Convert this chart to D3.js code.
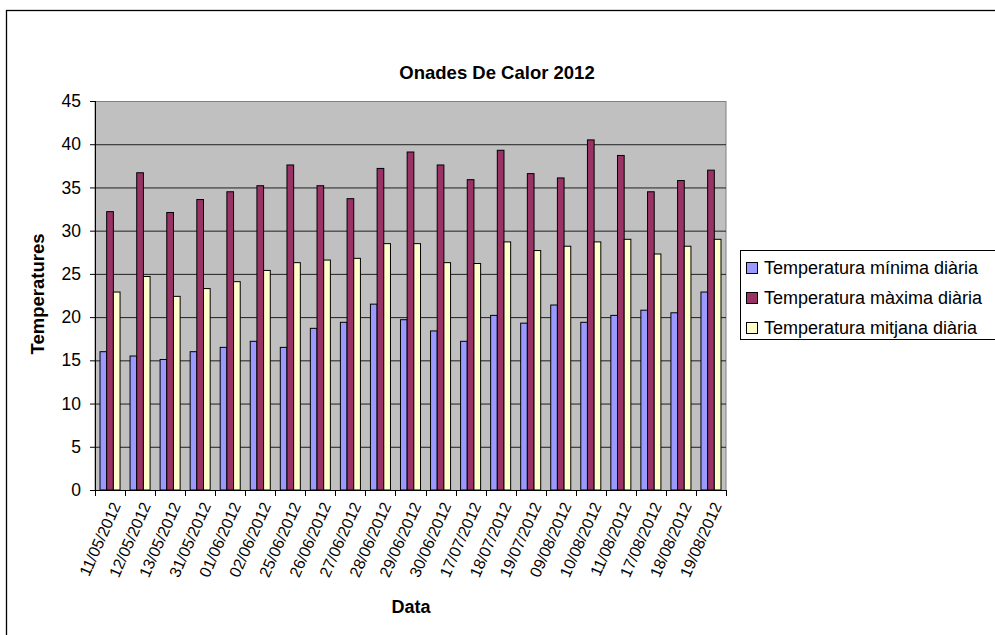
<!DOCTYPE html>
<html>
<head>
<meta charset="utf-8">
<script src="https://cdn.jsdelivr.net/npm/d3@7"></script>
<style>
  body { margin: 0; background: #fff; }
  text { font-family: Arial, "Liberation Sans", sans-serif; fill: #000; }
</style>
</head>
<body>
<svg id="chart" width="995" height="635"></svg>
<script>
// Dates (categories)
var dates = ['11/05/2012', '12/05/2012', '13/05/2012', '31/05/2012', '01/06/2012',
  '02/06/2012', '25/06/2012', '26/06/2012', '27/06/2012', '28/06/2012', '29/06/2012',
  '30/06/2012', '17/07/2012', '18/07/2012', '19/07/2012', '09/08/2012', '10/08/2012',
  '11/08/2012', '17/08/2012', '18/08/2012', '19/08/2012'];

// Series values
var tempMin = [16.0, 15.5, 15.1, 16.0, 16.5, 17.2, 16.5, 18.7, 19.4, 21.5, 19.7,
  18.4, 17.2, 20.2, 19.3, 21.4, 19.4, 20.2, 20.8, 20.5, 22.9];
var tempMax = [32.2, 36.7, 32.1, 33.6, 34.5, 35.2, 37.6, 35.2, 33.7, 37.2, 39.1,
  37.6, 35.9, 39.3, 36.6, 36.1, 40.5, 38.7, 34.5, 35.8, 37.0];
var tempMean = [22.9, 24.7, 22.4, 23.3, 24.1, 25.4, 26.3, 26.6, 26.8, 28.5, 28.5,
  26.3, 26.2, 28.7, 27.7, 28.2, 28.7, 29.0, 27.3, 28.2, 29.0];

var yTicks = [0, 5, 10, 15, 20, 25, 30, 35, 40, 45];

var seriesNames = ['Temperatura mínima diària', 'Temperatura màxima diària', 'Temperatura mitjana diària'];
var seriesColors = ['#9999FF', '#993366', '#FFFFCC'];
var seriesValues = [tempMin, tempMax, tempMean];

var svg = d3.select('#chart');

// outer chart border (right and bottom run off the window)
svg.append('rect')
  .attr('x', 6.5).attr('y', 10.5)
  .attr('width', 1000).attr('height', 640)
  .attr('fill', 'none').attr('stroke', '#000').attr('stroke-width', 1.3);

var plotLeft = 95, plotRight = 726, plotTop = 101, plotBottom = 490;

var scaleX = d3.scaleBand()
  .domain(dates)
  .range([plotLeft, plotRight])
  .paddingInner(1 / 3)
  .paddingOuter(1 / 6);
var scaleSeries = d3.scaleBand()
  .domain(d3.range(3))
  .range([0, scaleX.bandwidth()]);
var scaleY = d3.scaleLinear()
  .domain([0, 45])
  .range([plotBottom, plotTop]);

// plot area
svg.append('rect')
  .attr('x', plotLeft).attr('y', plotTop + 0.5)
  .attr('width', plotRight - plotLeft).attr('height', plotBottom - plotTop)
  .attr('fill', '#C0C0C0').attr('stroke', '#808080').attr('stroke-width', 1);

// horizontal gridlines
var gridY = d3.axisLeft(scaleY)
  .tickValues(yTicks.slice(1, -1))
  .tickSize(-(plotRight - plotLeft))
  .tickFormat('');
var gridG = svg.append('g').attr('transform', 'translate(' + plotLeft + ',0)').call(gridY);
gridG.select('.domain').remove();
gridG.selectAll('line').attr('stroke', '#202020').attr('stroke-width', 1);

// bars
var table = dates.map(function(d, i) {
  return { date: d, values: seriesValues.map(function(s) { return s[i]; }) };
});
var groups = svg.append('g').selectAll('g')
  .data(table)
  .enter().append('g')
  .attr('transform', function(d) { return 'translate(' + scaleX(d.date) + ',0)'; });
groups.selectAll('rect')
  .data(function(d) { return d.values; })
  .enter().append('rect')
  .attr('x', function(d, i) { return scaleSeries(i); })
  .attr('y', function(d) { return scaleY(d); })
  .attr('width', scaleSeries.bandwidth())
  .attr('height', function(d) { return plotBottom - scaleY(d); })
  .attr('fill', function(d, i) { return seriesColors[i]; })
  .attr('stroke', '#000')
  .attr('stroke-width', 1);

// y axis
var axisY = d3.axisLeft(scaleY).tickValues(yTicks).tickSize(5).tickPadding(9);
var yG = svg.append('g').attr('transform', 'translate(' + plotLeft + ',0)').call(axisY);
yG.select('.domain').attr('stroke', '#000').attr('d', 'M0.5,' + plotTop + 'V' + plotBottom);
yG.selectAll('text').style('font-size', '17.5px').style('font-family', 'Arial, "Liberation Sans", sans-serif');

// x axis: ticks between categories
var step = scaleX.step();
var boundaries = d3.range(dates.length + 1).map(function(i) { return plotLeft + i * step; });
var xG = svg.append('g');
xG.append('line')
  .attr('x1', plotLeft).attr('x2', plotRight)
  .attr('y1', plotBottom + 0.5).attr('y2', plotBottom + 0.5)
  .attr('stroke', '#000').attr('stroke-width', 1);
xG.selectAll('line.tick')
  .data(boundaries)
  .enter().append('line')
  .attr('class', 'tick')
  .attr('x1', function(d) { return Math.round(d) + 0.5; })
  .attr('x2', function(d) { return Math.round(d) + 0.5; })
  .attr('y1', plotBottom).attr('y2', plotBottom + 6)
  .attr('stroke', '#000');
xG.selectAll('text')
  .data(dates)
  .enter().append('text')
  .attr('transform', function(d) {
    return 'translate(' + (scaleX(d) + scaleX.bandwidth() / 2 + 6) + ',' + (plotBottom + 13) + ')rotate(-66)';
  })
  .attr('text-anchor', 'end')
  .attr('dy', '0.35em')
  .style('font-size', '16px')
  .text(function(d) { return d; });

// titles
svg.append('text')
  .attr('x', 497).attr('y', 79)
  .attr('text-anchor', 'middle')
  .style('font-size', '18.5px').style('font-weight', 'bold')
  .text('Onades De Calor 2012');
svg.append('text')
  .attr('x', 411).attr('y', 613)
  .attr('text-anchor', 'middle')
  .style('font-size', '18px').style('font-weight', 'bold')
  .text('Data');
svg.append('text')
  .attr('transform', 'translate(44,294)rotate(-90)')
  .attr('text-anchor', 'middle')
  .style('font-size', '18.5px').style('font-weight', 'bold')
  .text('Temperatures');

// legend
var legend = svg.append('g');
legend.append('rect')
  .attr('x', 740.5).attr('y', 250.5)
  .attr('width', 300).attr('height', 89)
  .attr('fill', '#fff').attr('stroke', '#000').attr('stroke-width', 1);
var items = legend.selectAll('g.item')
  .data(seriesNames)
  .enter().append('g')
  .attr('class', 'item')
  .attr('transform', function(d, i) { return 'translate(746,' + (268 + i * 30) + ')'; });
items.append('rect')
  .attr('x', 0.5).attr('y', -5.5)
  .attr('width', 11).attr('height', 11)
  .attr('fill', function(d, i) { return seriesColors[i]; })
  .attr('stroke', '#000');
items.append('text')
  .attr('x', 18).attr('dy', '0.35em')
  .style('font-size', '18px')
  .text(function(d) { return d; });
</script>
</body>
</html>
